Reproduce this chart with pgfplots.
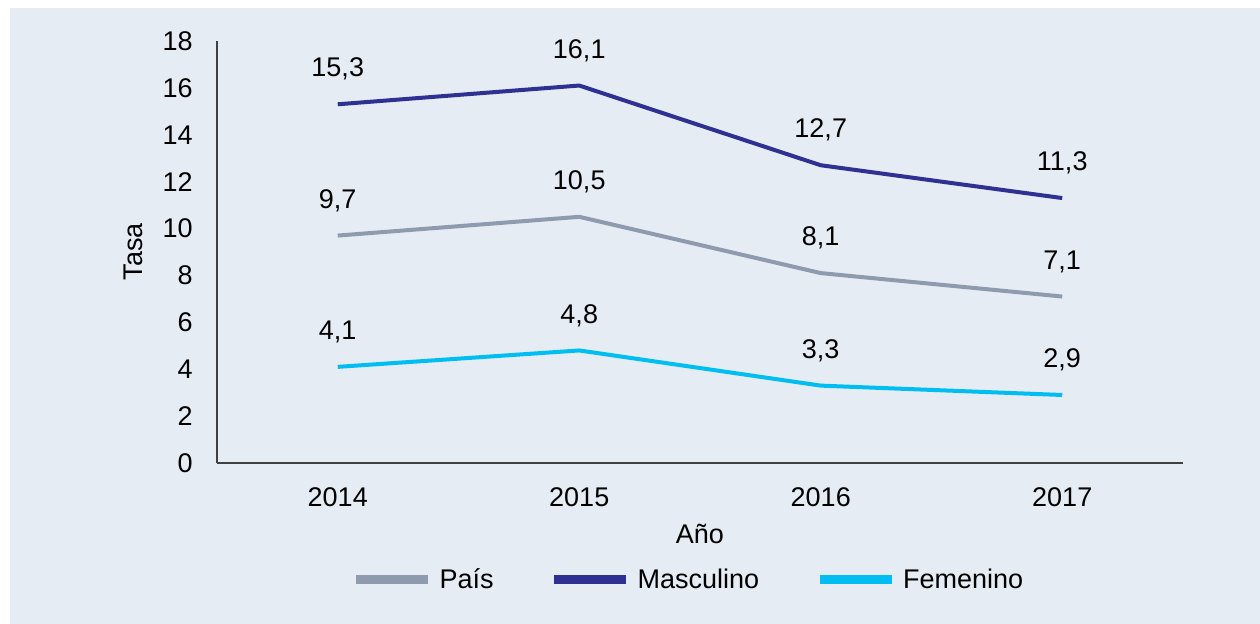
\documentclass[border=0pt]{standalone}
\usepackage{pgfplots}
\pgfplotsset{compat=1.18}
\usepackage{fontspec}
\setmainfont{Liberation Sans}
\definecolor{bgc}{HTML}{E6ECF4}
\definecolor{pais}{HTML}{8E9AAD}
\definecolor{masc}{HTML}{2E3192}
\definecolor{fem}{HTML}{00BEF2}
\definecolor{axc}{HTML}{404040}
\newcommand{\cf}{\fontsize{13.5}{16}\selectfont}
\begin{document}
\begin{tikzpicture}
\useasboundingbox (0,0) rectangle (630pt,312pt);
\fill[white] (0,0) rectangle (630pt,312pt);
\fill[bgc] (5pt,0) rectangle (630pt,308pt);
\begin{axis}[
  at={(108.5pt,80.5pt)}, anchor=south west,
  scale only axis, width=483pt, height=211pt,
  xmin=-0.5, xmax=3.5, ymin=0, ymax=18,
  axis lines*=left,
  axis line style={axc, line width=0.75pt, -},
  xtick={0,1,2,3}, xticklabels={2014,2015,2016,2017},
  ytick={0,2,...,18},
  major tick length=0pt,
  tick style={draw=none},
  /pgf/number format/assume math mode=true,
  tick label style={font=\cf},
  yticklabel style={anchor=east, inner sep=0pt, xshift=-12pt},
  xticklabel style={anchor=center, inner sep=0pt, yshift=-17pt},
  xlabel={Año}, ylabel={Tasa},
  label style={font=\cf},
  xlabel style={at={(axis description cs:0.5,-0.168)}, anchor=center},
  ylabel style={at={(axis description cs:-0.087,0.5)}, anchor=center},
  nodes near coords={\pgfmathprintnumber[fixed,fixed zerofill,precision=1,use comma,assume math mode=true]{\pgfplotspointmeta}},
  nodes near coords style={font=\cf, anchor=center, yshift=17.5pt, text=black},
  legend columns=3,
  legend style={at={(0.489,-0.277)}, anchor=center, draw=none, fill=none,
    font=\cf,
    /tikz/every even column/.append style={column sep=26pt},
    /tikz/every odd column/.append style={column sep=1.5pt}},
  legend image code/.code={\draw[#1, line width=4.5pt] (0pt,0pt) -- (36pt,0pt);},
]
\addplot[pais, line width=2pt] coordinates {(0,9.7) (1,10.5) (2,8.1) (3,7.1)};
\addlegendentry{País}
\addplot[masc, line width=2pt] coordinates {(0,15.3) (1,16.1) (2,12.7) (3,11.3)};
\addlegendentry{Masculino}
\addplot[fem, line width=2pt] coordinates {(0,4.1) (1,4.8) (2,3.3) (3,2.9)};
\addlegendentry{Femenino}
\end{axis}
\end{tikzpicture}
\end{document}
